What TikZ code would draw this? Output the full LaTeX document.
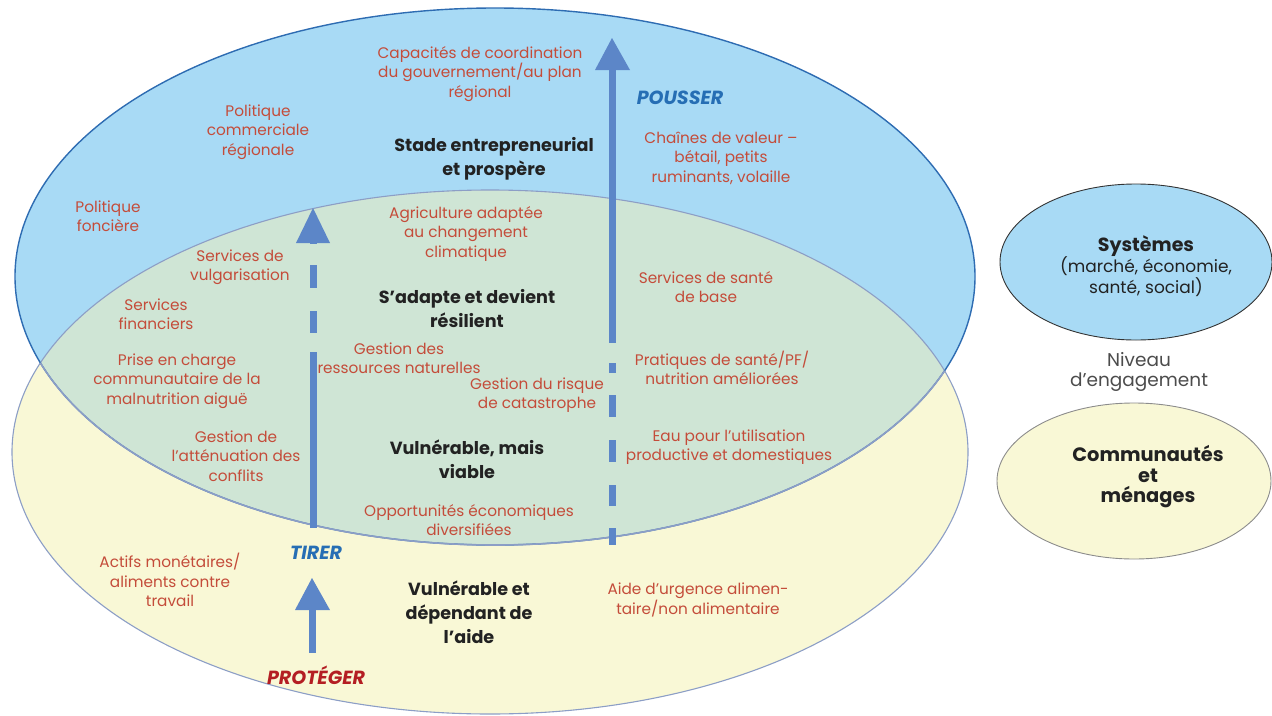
\documentclass[tikz,border=0pt]{standalone}
\usepackage{fontspec}
\usetikzlibrary{shapes.geometric}
\setmainfont{Poppins}
\begin{document}
\begin{tikzpicture}[x=1pt,y=-1pt,
  redtxt/.style={text=txtred,align=center,inner sep=0pt,font=\fontsize{15.3}{19.5}\selectfont},
  stage/.style={text=txtdark,align=center,inner sep=0pt,font=\fontsize{17.6}{24}\selectfont\bfseries},
  verb/.style={inner sep=0pt,font=\fontsize{19}{22}\selectfont\bfseries\itshape},
  shaft/.style={draw=arrowblue,line width=7pt,line cap=butt},
  head/.style={fill=arrowblue,draw=none}]
\definecolor{bluefill}{RGB}{168,218,245}
\definecolor{greenfill}{RGB}{207,229,213}
\definecolor{yellowfill}{RGB}{249,248,214}
\definecolor{blueedge}{RGB}{46,108,178}
\definecolor{yellowedge}{RGB}{140,158,198}
\definecolor{arrowblue}{RGB}{92,134,200}
\definecolor{txtred}{RGB}{196,76,58}
\definecolor{txtdark}{RGB}{34,34,34}
\definecolor{pushblue}{RGB}{38,110,180}
\definecolor{protred}{RGB}{180,30,35}

\useasboundingbox (0,0) rectangle (1272,715);

% the two overlapping levels
\fill[bluefill] (495,276.5) ellipse [x radius=480, y radius=268.5];
\fill[yellowfill] (490,452) ellipse [x radius=478, y radius=262];
\begin{scope}
  \clip (495,276.5) ellipse [x radius=480, y radius=268.5];
  \fill[greenfill] (490,452) ellipse [x radius=478, y radius=262];
\end{scope}
\draw[yellowedge,line width=1.1pt] (490,452) ellipse [x radius=478, y radius=262];
\draw[blueedge,line width=1.4pt] (495,276.5) ellipse [x radius=480, y radius=268.5];
\begin{scope}
  \clip (490,452) ellipse [x radius=478, y radius=262];
  \draw[yellowedge,line width=1.6pt] (495,276.5) ellipse [x radius=480, y radius=268.5];
\end{scope}

% legend
\node[draw=black!80,line width=0.9pt,fill=bluefill,ellipse,minimum width=272,minimum height=156,inner sep=0pt] (sys) at (1136,262) {};
\node[draw=black!45,line width=0.9pt,fill=yellowfill,ellipse,minimum width=274,minimum height=156,inner sep=0pt] (com) at (1134,481) {};
\node[text=txtdark,align=center,inner sep=0pt,font=\fontsize{17}{21}\selectfont] (systxt) at (1146,266)
  {{\fontsize{19}{21}\selectfont\bfseries Systèmes}\\(marché, économie,\\santé, social)};
\node[text=black!70,align=center,inner sep=0pt,font=\fontsize{18.5}{20}\selectfont] (niv) at (1139,372) {Niveau\\d’engagement};
\node[stage,font=\fontsize{19.4}{20.5}\selectfont\bfseries] (comtxt) at (1148,477) {Communautés\\et\\ménages};

% arrows
\coordinate (pushtop) at (612,38);
\coordinate (pushbase) at (612,70);
\fill[head] (595,70) -- (pushtop) -- (630,70) -- cycle;
\draw[shaft] (pushbase) -- (612,343);
\foreach \a/\b in {363/373,395/417,440/462,485/506,528/545}
  \draw[shaft] (612,\a) -- (612,\b);

\coordinate (pulltop) at (313,208);
\fill[head] (296,243) -- (pulltop) -- (330,243) -- cycle;
\foreach \a/\b in {243/244,265/288,311/333}
  \draw[shaft] (313,\a) -- (313,\b);
\draw[shaft] (313,352) -- (313,528);

\coordinate (prottop) at (312,578);
\fill[head] (295,610) -- (prottop) -- (330,610) -- cycle;
\draw[shaft] (312,609) -- (312,653);

% stage titles
\node[stage] (s1) at (494,159) {Stade entrepreneurial\\et prospère};
\node[stage] (s2) at (467,309) {S’adapte et devient\\résilient};
\node[stage] (s3) at (467,459) {Vulnérable, mais\\viable};
\node[stage] (s4) at (469,612) {Vulnérable et\\dépendant de\\l’aide};

% verbs
\node[verb,text=pushblue] (pousser) at (680,98) {POUSSER};
\node[verb,text=pushblue] (tirer) at (316,553) {TIRER};
\node[verb,text=protred] (proteger) at (316,675) {PROTÉGER};

% interventions
\node[redtxt] at (480,74) {Capacités de coordination\\du gouvernement/au plan\\régional};
\node[redtxt] at (258,132) {Politique\\commerciale\\régionale};
\node[redtxt] at (721,158) {Chaînes de valeur –\\bétail, petits\\ruminants, volaille};
\node[redtxt] at (108,216) {Politique\\foncière};
\node[redtxt] at (466,234) {Agriculture adaptée\\au changement\\climatique};
\node[redtxt] at (240,267) {Services de\\vulgarisation};
\node[redtxt] at (706,287) {Services de santé\\de base};
\node[redtxt] at (156,314) {Services\\financiers};
\node[redtxt] at (399,358) {Gestion des\\ressources naturelles};
\node[redtxt] at (537,395) {Gestion du risque\\de catastrophe};
\node[redtxt] at (722,368) {Pratiques de santé/PF/\\nutrition améliorées};
\node[redtxt] at (177,381) {Prise en charge\\communautaire de la\\malnutrition aiguë};
\node[redtxt] at (236,456) {Gestion de\\l’atténuation des\\conflits};
\node[redtxt] at (729,447) {Eau pour l’utilisation\\productive et domestiques};
\node[redtxt] at (469,520) {Opportunités économiques\\diversifiées};
\node[redtxt] at (170,580) {Actifs monétaires/\\aliments contre\\travail};
\node[redtxt] at (698,600) {Aide d’urgence alimen-\\taire/non alimentaire};
\end{tikzpicture}
\end{document}
